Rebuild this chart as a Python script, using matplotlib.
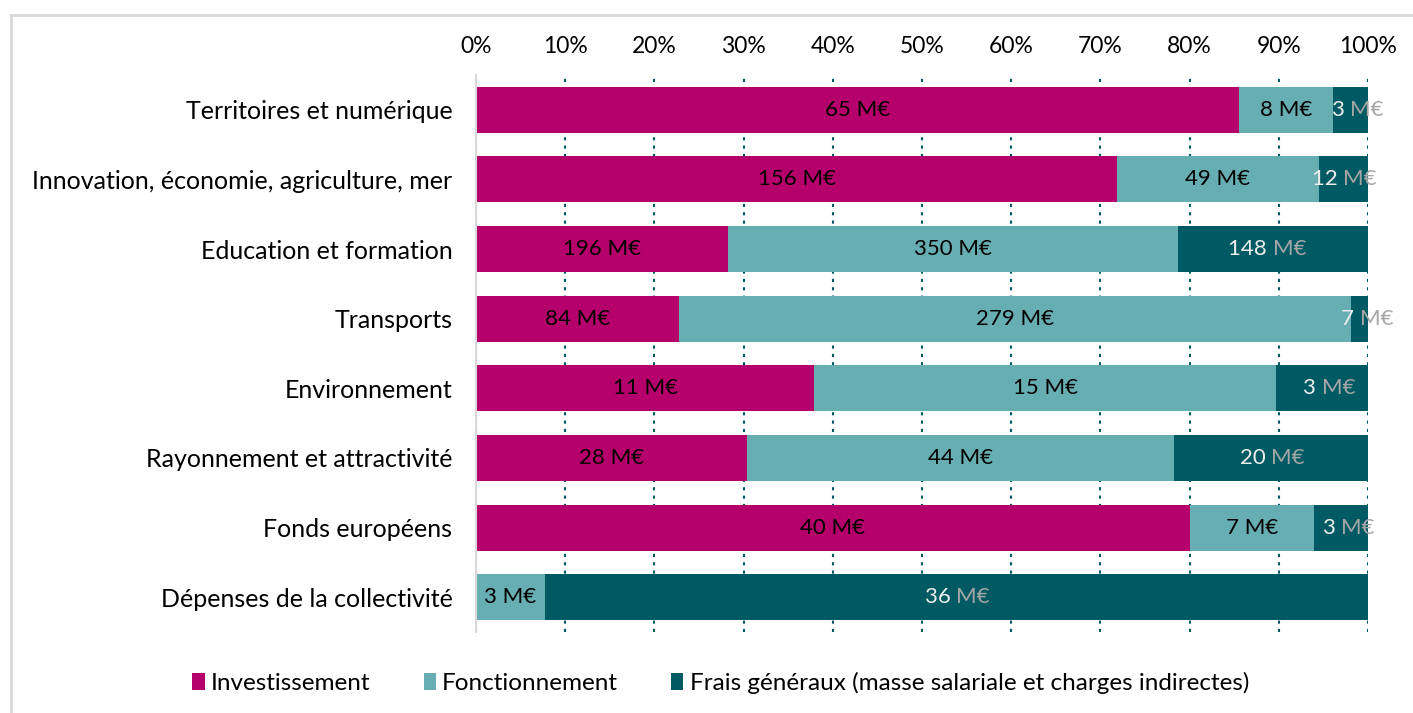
import matplotlib.pyplot as plt
from matplotlib.patches import Patch
from matplotlib.lines import Line2D
import numpy as np

plt.rcParams['font.family'] = ['Lato', 'DejaVu Sans']

categories = ["Territoires et numérique",
              "Innovation, économie, agriculture, mer",
              "Education et formation",
              "Transports",
              "Environnement",
              "Rayonnement et attractivité",
              "Fonds européens",
              "Dépenses de la collectivité"]
investissement = [65, 156, 196, 84, 11, 28, 40, 0]
fonctionnement = [8, 49, 350, 279, 15, 44, 7, 3]
frais_generaux = [3, 12, 148, 7, 3, 20, 3, 36]
series_names = ["Investissement", "Fonctionnement",
                "Frais généraux (masse salariale et charges indirectes)"]
colors = ["#B5006B", "#67AEB3", "#005A63"]

inv = np.array(investissement, dtype=float)
fon = np.array(fonctionnement, dtype=float)
fra = np.array(frais_generaux, dtype=float)
total = inv + fon + fra
shares = [inv / total, fon / total, fra / total]
raw = [inv, fon, fra]

fig = plt.figure(figsize=(14.13, 7.13), dpi=100)
ax = fig.add_axes([476 / 1413, 1 - 632 / 713, (1368 - 476) / 1413, (632 - 75) / 713])

y = np.arange(len(categories))
left = np.zeros(len(categories))
for k in range(3):
    ax.barh(y, shares[k], left=left, height=0.66, color=colors[k], zorder=2)
    for i in range(len(categories)):
        if raw[k][i] <= 0:
            continue
        xc = left[i] + shares[k][i] / 2
        if k < 2:
            ax.text(xc, y[i], f"{raw[k][i]:.0f} M€", ha='center', va='center',
                    fontsize=16, color='black', zorder=3)
        else:
            ax.text(xc, y[i], f"{raw[k][i]:.0f} ", ha='right', va='center',
                    fontsize=16, color='#EDEDED', zorder=3)
            ax.text(xc, y[i], "M€", ha='left', va='center',
                    fontsize=16, color='#A6A6A6', zorder=3)
    left = left + shares[k]

ax.set_xlim(0, 1)
ax.set_ylim(len(categories) - 0.5, -0.5)
ax.set_yticks(y)
ax.set_yticklabels(categories, fontsize=18)
ax.set_xticks(np.linspace(0, 1, 11))
ax.set_xticklabels([f"{v}%" for v in range(0, 101, 10)], fontsize=16.5)
ax.xaxis.tick_top()
ax.tick_params(axis='both', length=0)
ax.tick_params(axis='x', pad=13)
ax.tick_params(axis='y', pad=17)
ax.grid(axis='x', color='#005A63', linestyle=(0, (1.5, 2.5)), linewidth=1.5, zorder=1)
ax.set_axisbelow(True)
for s in ['top', 'right', 'bottom']:
    ax.spines[s].set_visible(False)
ax.spines['left'].set_color('#D9D9D9')
ax.spines['left'].set_linewidth(1.5)

handles = [Patch(facecolor=c, edgecolor='none') for c in colors]
fig.legend(handles, series_names, loc='center', bbox_to_anchor=(0.51, 0.042),
           ncol=3, frameon=False, fontsize=17.5, handlelength=0.5, handleheight=0.7,
           handletextpad=0.25, columnspacing=2.2)

# cadre gris clair
fig.add_artist(Line2D([11 / 1413, 11 / 1413], [0, 1 - 15 / 713], transform=fig.transFigure,
                      color='#D9D9D9', linewidth=2))
fig.add_artist(Line2D([11 / 1413, 1], [1 - 15 / 713, 1 - 15 / 713], transform=fig.transFigure,
                      color='#D9D9D9', linewidth=2))

fig.savefig("out.png", dpi=100)
